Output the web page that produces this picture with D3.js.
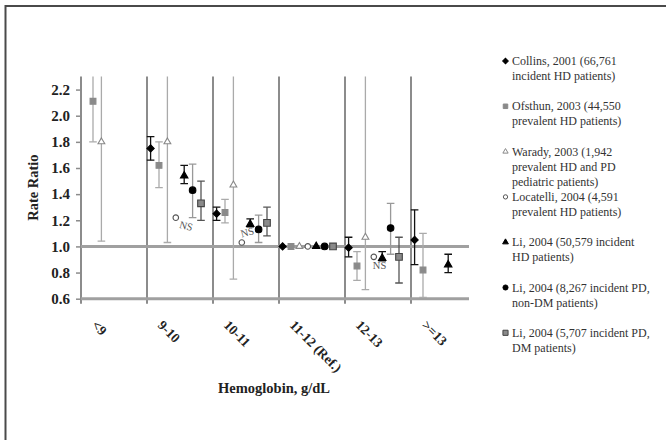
<!DOCTYPE html>
<html lang="en">
<head>
<meta charset="UTF-8">
<title>Rate Ratio by Hemoglobin</title>
<style>
  body { margin: 0; background: #fff; }
  svg text { font-family: "Liberation Serif", "Times New Roman", Times, serif; }
</style>
</head>
<body>
<svg id="chart" width="666" height="440"></svg>
<script src="https://d3js.org/d3.v7.min.js"></script>
<script>
// categories and ticks
const categories = ["<9", "9-10", "10-11", "11-12 (Ref.)", "12-13", ">=13"]
const yTicks = [0.6, 0.8, 1.0, 1.2, 1.4, 1.6, 1.8, 2.0, 2.2]

const seriesNames = ["Collins", "Ofsthun", "Warady", "Locatelli", "LiHD", "LiPD", "LiDM"]
const legendLabels = [
    ["Collins, 2001 (66,761", "incident HD patients)"],
    ["Ofsthun, 2003 (44,550", "prevalent HD patients)"],
    ["Warady, 2003 (1,942", "prevalent HD and PD", "pediatric patients)"],
    ["Locatelli, 2004 (4,591", "prevalent HD patients)"],
    ["Li, 2004 (50,579 incident", "HD patients)"],
    ["Li, 2004 (8,267 incident PD,", "non-DM patients)"],
    ["Li, 2004 (5,707 incident PD,", "DM patients)"]
]

// rate ratios and 95% CI per series (null = not reported)
const collinsRR = [null, 1.75, 1.25, 1.00, 0.99, 1.05]
const collinsLo = [null, 1.66, 1.20, null, 0.92, 0.86]
const collinsHi = [null, 1.84, 1.30, null, 1.07, 1.28]

const ofsthunRR = [2.11, 1.62, 1.26, 1.00, 0.85, 0.82]
const ofsthunLo = [1.80, 1.45, 1.18, null, 0.74, 0.61]
const ofsthunHi = [2.50, 1.80, 1.36, null, 0.96, 1.10]

const waradyRR = [1.80, 1.80, 1.47, 1.00, 1.07, null]
const waradyLo = [1.04, 1.03, 0.75, null, 0.67, null]
const waradyHi = [3.10, 3.10, 2.90, null, 2.50, null]

const locatelliRR = [null, 1.22, 1.03, 1.00, 0.92, null]

const liHdRR = [null, 1.54, 1.17, 1.00, 0.91, 0.86]
const liHdLo = [null, 1.48, 1.15, null, 0.89, 0.80]
const liHdHi = [null, 1.62, 1.21, null, 0.96, 0.94]

const liPdRR = [null, 1.43, 1.13, 1.00, 1.14, null]
const liPdLo = [null, 1.22, 1.03, null, 0.94, null]
const liPdHi = [null, 1.63, 1.24, null, 1.33, null]

const liDmRR = [null, 1.33, 1.18, 1.00, 0.92, null]
const liDmLo = [null, 1.20, 1.08, null, 0.72, null]
const liDmHi = [null, 1.50, 1.30, null, 1.07, null]

const nsCategories = ["9-10", "10-11", "12-13"]

const seriesData = [
    { rr: collinsRR, lo: collinsLo, hi: collinsHi },
    { rr: ofsthunRR, lo: ofsthunLo, hi: ofsthunHi },
    { rr: waradyRR, lo: waradyLo, hi: waradyHi },
    { rr: locatelliRR, lo: null, hi: null },
    { rr: liHdRR, lo: liHdLo, hi: liHdHi },
    { rr: liPdRR, lo: liPdLo, hi: liPdHi },
    { rr: liDmRR, lo: liDmLo, hi: liDmHi }
]

// marker look per series
const seriesStyle = [
    { shape: d3.symbolSquare, rot: 45, size: 26, fill: "#000", stroke: "#000", err: "#111" },
    { shape: d3.symbolSquare, rot: 0, size: 34, fill: "#8a8a8a", stroke: "#8a8a8a", err: "#aaa" },
    { shape: d3.symbolTriangle, rot: 0, size: 20, fill: "#fff", stroke: "#888", err: "#aaa" },
    { shape: d3.symbolCircle, rot: 0, size: 24, fill: "#fff", stroke: "#555", err: "#555" },
    { shape: d3.symbolTriangle, rot: 0, size: 24, fill: "#000", stroke: "#000", err: "#111" },
    { shape: d3.symbolCircle, rot: 0, size: 34, fill: "#000", stroke: "#000", err: "#999" },
    { shape: d3.symbolSquare, rot: 0, size: 44, fill: "#8a8a8a", stroke: "#444", err: "#555" }
]

const svg = d3.select("#chart")

// frame
svg.append("rect")
    .attr("x", 5.5).attr("y", 6)
    .attr("width", 700).attr("height", 500)
    .attr("fill", "none")
    .attr("stroke", "#4a4a4a")
    .attr("stroke-width", 2)

const plotLeft = 81
const catWidth = 66
const plotRight = 469
const plotTop = 76.5
const plotBottom = 298.7

const x = d3.scaleBand()
    .domain(categories)
    .range([plotLeft, plotLeft + categories.length * catWidth])

const xs = d3.scalePoint()
    .domain(seriesNames)
    .range([3.6, 54])

const y = d3.scaleLinear()
    .domain([0.6, 2.3])
    .range([plotBottom, plotTop])

svg.append("clipPath").attr("id", "plot-clip")
    .append("rect")
    .attr("x", plotLeft - 10).attr("y", plotTop)
    .attr("width", plotRight - plotLeft + 20).attr("height", plotBottom - plotTop + 10)

// vertical separators (and the y axis line)
svg.append("g")
    .selectAll("line")
    .data(categories)
    .enter()
    .append("line")
    .attr("x1", d => x(d)).attr("x2", d => x(d))
    .attr("y1", plotTop).attr("y2", plotBottom + 5)
    .attr("stroke", d => d === categories[0] ? "#8c8c8c" : "#666")
    .attr("stroke-width", d => d === categories[0] ? 2 : 1.5)

// y axis ticks and labels
const yAxis = svg.append("g")
    .attr("transform", `translate(${plotLeft}, 0)`)
    .call(d3.axisLeft(y).tickValues(yTicks).tickFormat(d3.format(".1f")).tickSize(5).tickPadding(6))
yAxis.attr("font-family", null)
yAxis.select(".domain").remove()
yAxis.selectAll(".tick line").attr("stroke", "#8c8c8c").attr("stroke-width", 1.5)
yAxis.selectAll(".tick text")
    .attr("font-size", 15)
    .attr("font-weight", "bold")
    .attr("fill", "#222")

// reference line at 1.0 and x axis at 0.6
svg.append("g")
    .selectAll("line")
    .data([0.6, 1.0])
    .enter()
    .append("line")
    .attr("x1", plotLeft).attr("x2", plotRight)
    .attr("y1", d => y(d)).attr("y2", d => y(d))
    .attr("stroke", "#a0a0a0")
    .attr("stroke-width", 3)

// x labels
svg.append("g")
    .selectAll("text")
    .data(categories)
    .enter()
    .append("text")
    .attr("transform", d => `translate(${x(d) + x.bandwidth() / 2 - 23}, 326) rotate(45)`)
    .attr("font-size", 13.5)
    .attr("font-weight", "bold")
    .attr("fill", "#222")
    .text(d => d)

// axis titles
svg.append("text")
    .attr("transform", `translate(38, ${(plotTop + plotBottom) / 2}) rotate(-90)`)
    .attr("text-anchor", "middle")
    .attr("font-size", 14.5)
    .attr("font-weight", "bold")
    .attr("fill", "#222")
    .text("Rate Ratio")

svg.append("text")
    .attr("x", 274).attr("y", 393)
    .attr("text-anchor", "middle")
    .attr("font-size", 14.5)
    .attr("font-weight", "bold")
    .attr("fill", "#222")
    .text("Hemoglobin, g/dL")

const px = (s, c) => x(c) + xs(seriesNames[s])

// error bars
const errGroup = svg.append("g").attr("clip-path", "url(#plot-clip)")
seriesData.forEach((sd, s) => {
    if (!sd.lo) return
    const rows = categories
        .map((c, i) => ({ c: c, lo: sd.lo[i], hi: sd.hi[i] }))
        .filter(d => d.lo !== null)
    const g = errGroup.append("g")
        .attr("stroke", seriesStyle[s].err)
        .attr("stroke-width", 1.3)
    g.selectAll(".stem")
        .data(rows)
        .enter()
        .append("line")
        .attr("x1", d => px(s, d.c)).attr("x2", d => px(s, d.c))
        .attr("y1", d => y(d.lo)).attr("y2", d => y(d.hi))
    g.selectAll(".cap")
        .data(rows.flatMap(d => [{ c: d.c, v: d.lo }, { c: d.c, v: d.hi }]))
        .enter()
        .append("line")
        .attr("x1", d => px(s, d.c) - 3.8).attr("x2", d => px(s, d.c) + 3.8)
        .attr("y1", d => y(d.v)).attr("y2", d => y(d.v))
})

// markers
seriesData.forEach((sd, s) => {
    const st = seriesStyle[s]
    const rows = categories
        .map((c, i) => ({ c: c, v: sd.rr[i] }))
        .filter(d => d.v !== null)
    svg.append("g")
        .selectAll("path")
        .data(rows)
        .enter()
        .append("path")
        .attr("d", d3.symbol().type(st.shape).size(st.size))
        .attr("transform", d => `translate(${px(s, d.c)}, ${y(d.v)}) rotate(${st.rot})`)
        .attr("fill", st.fill)
        .attr("stroke", st.stroke)
        .attr("stroke-width", 1.1)
})

// NS notes next to Locatelli points
const nsShift = [[3, 10, 15], [0, -5, -15], [-1, 12, 0]]
svg.append("g")
    .selectAll("text")
    .data(nsCategories)
    .enter()
    .append("text")
    .attr("transform", (d, i) => {
        const v = locatelliRR[categories.indexOf(d)]
        return `translate(${px(3, d) + nsShift[i][0]}, ${y(v) + nsShift[i][1]}) rotate(${nsShift[i][2]})`
    })
    .attr("font-size", 10.5)
    .attr("fill", "#555")
    .text("NS")

// legend
const legend = svg.append("g")
    .selectAll("g")
    .data(legendLabels)
    .enter()
    .append("g")
    .attr("transform", (d, i) => `translate(505.5, ${61 + i * 45.3})`)

legend.append("path")
    .attr("d", (d, i) => d3.symbol().type(seriesStyle[i].shape).size(seriesStyle[i].size * 0.6)())
    .attr("transform", (d, i) => `rotate(${seriesStyle[i].rot})`)
    .attr("fill", (d, i) => seriesStyle[i].fill)
    .attr("stroke", (d, i) => seriesStyle[i].stroke)
    .attr("stroke-width", 1)

legend.selectAll("text")
    .data(d => d)
    .enter()
    .append("text")
    .attr("x", 6.5)
    .attr("y", (d, j) => 4 + j * 15)
    .attr("font-size", 12)
    .attr("fill", "#333")
    .text(d => d)
</script>
</body>
</html>
